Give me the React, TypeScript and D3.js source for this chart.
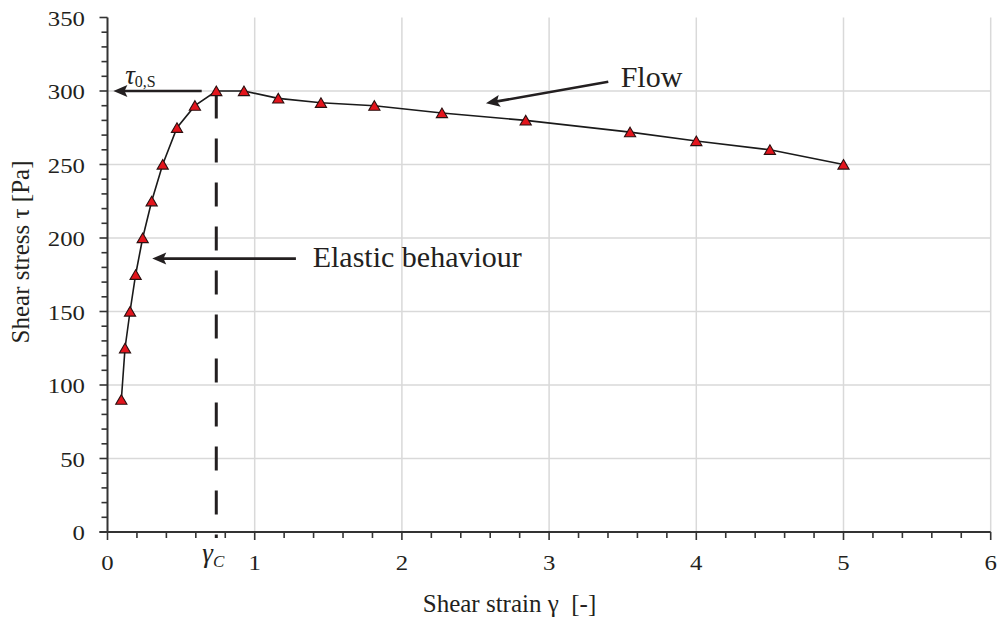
import React from 'react';
import * as d3 from 'd3';

// Data
const strain = [0.094, 0.119, 0.153, 0.191, 0.239, 0.300, 0.375, 0.472, 0.594, 0.739, 0.927, 1.160, 1.450, 1.813, 2.272, 2.841, 3.550, 4.0, 4.5, 5.0];
const stress = [90, 125, 150, 175, 200, 225, 250, 275, 290, 300, 300, 295, 292, 290, 285, 280, 272, 266, 260, 250];
const xTicks = [0, 1, 2, 3, 4, 5, 6];
const yTicks = [0, 50, 100, 150, 200, 250, 300, 350];
const gammaC = 0.739;
const tauS = 300;

const TXT = '#231f20';
const FONT = "'Liberation Serif', 'Times New Roman', Times, serif";
const tf = { fontFamily: FONT };

function Arrow({ x1, y1, x2, y2, head = 14, half = 6, width = 2.6 }: any) {
  const dx = x2 - x1, dy = y2 - y1;
  const L = Math.hypot(dx, dy);
  const ux = dx / L, uy = dy / L;
  const bx = x2 - ux * head, by = y2 - uy * head;
  const px = -uy, py = ux;
  const pts = [
    [x2, y2],
    [bx + px * half, by + py * half],
    [x2 - ux * head * 0.8, y2 - uy * head * 0.8],
    [bx - px * half, by - py * half],
  ];
  return (
    <g>
      <line x1={x1} y1={y1} x2={x2 - ux * head * 0.7} y2={y2 - uy * head * 0.7} stroke={TXT} strokeWidth={width} />
      <polygon points={pts.map(p => p.join(',')).join(' ')} fill={TXT} />
    </g>
  );
}

export default function App() {
  const W = 1001, H = 617;
  const x = d3.scaleLinear().domain([0, 6]).range([107.5, 990.7]);
  const y = d3.scaleLinear().domain([0, 350]).range([532, 17.5]);

  const pts = strain.map((s, i) => [s, stress[i]] as [number, number]);
  const line = d3.line<[number, number]>().x(d => x(d[0])).y(d => y(d[1]));

  const xMinor = d3.range(0, 6.0001, 0.2).filter(v => Math.abs(v - Math.round(v)) > 1e-6);
  const yMinor = d3.range(0, 351, 10).filter(v => v % 50 !== 0);

  const tri = 'M0,-5L5.6,4.6L-5.6,4.6Z';

  return (
    <svg width={W} height={H} style={{ position: 'absolute', left: 0, top: 0, background: '#fff', fontFamily: FONT }}>
      <rect width={W} height={H} fill="#fff" />
      {/* gridlines */}
      {yTicks.filter(v => v > 0 && v < 350).map(v => (
        <line key={'gy' + v} x1={x(0)} x2={x(6)} y1={y(v)} y2={y(v)} stroke="#d9d9d9" strokeWidth={1.5} />
      ))}
      {xTicks.filter(v => v > 0).map(v => (
        <line key={'gx' + v} x1={x(v)} x2={x(v)} y1={y(350)} y2={y(0)} stroke="#d9d9d9" strokeWidth={1.5} />
      ))}

      {/* dashed gamma_C line */}
      <line x1={x(gammaC)} x2={x(gammaC)} y1={y(tauS) + 3.5} y2={y(0) + 6} stroke={TXT} strokeWidth={3} strokeDasharray="24 20" />

      {/* axes */}
      <line x1={x(0)} x2={x(0)} y1={y(350)} y2={y(0)} stroke="#333" strokeWidth={2} />
      <line x1={x(0) - 8} x2={x(6)} y1={y(0)} y2={y(0)} stroke="#333" strokeWidth={2} />
      {yTicks.map(v => (
        <line key={'ty' + v} x1={x(0) - 8} x2={x(0)} y1={y(v)} y2={y(v)} stroke="#333" strokeWidth={1.6} />
      ))}
      {yMinor.map(v => (
        <line key={'tym' + v} x1={x(0) - 6} x2={x(0)} y1={y(v)} y2={y(v)} stroke="#333" strokeWidth={1.6} />
      ))}
      {xTicks.map(v => (
        <line key={'tx' + v} x1={x(v)} x2={x(v)} y1={y(0)} y2={y(0) + 8} stroke="#333" strokeWidth={1.6} />
      ))}
      {xMinor.map(v => (
        <line key={'txm' + v} x1={x(v)} x2={x(v)} y1={y(0)} y2={y(0) + 6} stroke="#333" strokeWidth={1.6} />
      ))}

      {/* tick labels */}
      {yTicks.map(v => (
        <g key={'ly' + v} transform={`translate(${x(0) - 22.5},${y(v) + 8.2}) scale(1.18,1)`}>
          <text textAnchor="end" fontSize={21} fill={TXT} style={tf}>{v}</text>
        </g>
      ))}
      {xTicks.map(v => (
        <g key={'lx' + v} transform={`translate(${x(v)},${y(0) + 38}) scale(1.18,1)`}>
          <text textAnchor="middle" fontSize={21} fill={TXT} style={tf}>{v}</text>
        </g>
      ))}

      {/* axis titles */}
      <text x={509.5} y={612} textAnchor="middle" fontSize={25} fill={TXT} style={{ ...tf, whiteSpace: 'pre' }}>{'Shear strain γ  [-]'}</text>
      <text transform="translate(29,252) rotate(-90)" textAnchor="middle" fontSize={25} fill={TXT} style={tf}>Shear stress τ [Pa]</text>

      {/* series */}
      <path d={line(pts) || ''} fill="none" stroke="#1a1a1a" strokeWidth={1.6} />
      {pts.map((p, i) => (
        <path key={'m' + i} d={tri} transform={`translate(${x(p[0])},${y(p[1])})`} fill="#e3141c" stroke="#2a1010" strokeWidth={1.1} />
      ))}

      {/* annotations */}
      <Arrow x1={x(0.64)} y1={y(tauS)} x2={x(0.04)} y2={y(tauS)} />
      <text x={x(0.12)} y={y(305)} fontSize={27} fontStyle="italic" fill={TXT} style={tf}>τ<tspan fontSize={16} fontStyle="normal" dy={3.5}>0,S</tspan></text>

      <Arrow x1={x(1.28)} y1={y(186)} x2={x(0.304)} y2={y(186)} />
      <text x={x(1.394)} y={y(180.3)} fontSize={30} fill={TXT} style={tf}>Elastic behaviour</text>

      <Arrow x1={x(3.402)} y1={y(306.3)} x2={x(2.571)} y2={y(291.6)} />
      <text x={x(3.486)} y={y(302.5)} fontSize={30} fill={TXT} style={tf}>Flow</text>

      <text x={x(gammaC) - 14} y={y(0) + 30} fontSize={27} fontStyle="italic" fill={TXT} style={tf}>γ<tspan fontSize={17} dy={5}>C</tspan></text>
    </svg>
  );
}
